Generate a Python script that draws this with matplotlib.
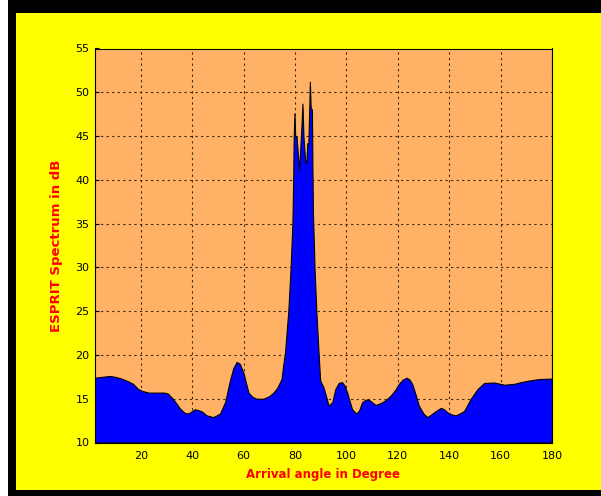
import matplotlib.pyplot as plt
from matplotlib.patches import Rectangle

# ESPRIT spectrum (angle in degree, level in dB)
angle = [2, 5, 8, 10, 12.5, 15, 17, 19, 20.5, 23, 26, 29, 30.5, 32.5, 34, 35.2,
         37, 38.4, 40, 41, 42.5, 44, 45.6, 48.2, 50.8, 52.8, 54.7, 56, 57.3,
         58.5, 59.9, 61.9, 63.5, 65.1, 67.7, 70, 71.6, 73, 74.2, 74.8, 75.5,
         76.1, 76.8, 77.4, 78.3, 79.0, 79.3, 79.5, 79.8, 80.1, 80.6, 81.6,
         82.5, 82.9, 83.3, 84.0, 84.4, 84.8, 85.2, 85.8, 86.1, 86.6,
         86.8, 87.0, 87.6, 88.3, 89.2, 89.8, 91.1, 93.1, 94.5, 95.7, 97.0,
         98.3, 99.3, 100.3, 102.2, 103.9, 105, 106.1, 107.5, 108.7, 110, 111.3,
         112.5, 113.9, 115.5, 117.2, 119, 120.4, 122, 123.4, 124.5, 125.6, 127,
         128.2, 130, 131.5, 133, 134.1, 136.7, 138, 139.3, 141, 142.5, 144,
         145.8, 148.4, 151, 153.6, 157.5, 161.4, 165.3, 168, 170.5, 175, 180]
spectrum = [17.4, 17.5, 17.6, 17.5, 17.3, 17.0, 16.7, 16.1, 15.9, 15.7, 15.7,
            15.7, 15.6, 15.0, 14.4, 13.9, 13.4, 13.3, 13.6, 13.8, 13.7, 13.5,
            13.1, 12.9, 13.3, 14.6, 17.1, 18.5, 19.2, 19.0, 18.0, 15.7, 15.2,
            15.0, 15.0, 15.3, 15.7, 16.2, 16.9, 17.3, 19.0, 20.2, 22.8, 25.0,
            30.0, 35.0, 40.0, 44.9, 47.6, 44.9, 45.0, 41.1, 46.0, 48.7,
            45.0, 42.0, 41.9, 44.2, 44.0, 51.2, 48.3, 48.0, 41.0, 36.2, 30.0,
            25.0, 20.1, 17.1, 16.3, 14.2, 14.6, 16.1, 16.8, 16.9, 16.5, 15.7,
            13.8, 13.3, 13.7, 14.6, 14.9, 14.9, 14.6, 14.3, 14.4, 14.6, 14.9,
            15.35, 16.0, 16.7, 17.2, 17.4, 17.2, 16.7, 15.4, 14.2, 13.3, 12.9,
            13.2, 13.45, 13.95, 13.8, 13.45, 13.2, 13.1, 13.3, 13.6, 15.0, 16.1,
            16.8, 16.85, 16.6, 16.7, 16.9, 17.05, 17.25, 17.3]
xticks = [20, 40, 60, 80, 100, 120, 140, 160, 180]
yticks = [10, 15, 20, 25, 30, 35, 40, 45, 50, 55]

fig = plt.figure(figsize=(6.01, 4.96), dpi=100)
fig.patch.set_facecolor('white')
# black frame and yellow panel
fig.patches.append(Rectangle((8 / 601, 0), 1, 1, transform=fig.transFigure,
                             facecolor='black', edgecolor='none', zorder=-2))
fig.patches.append(Rectangle((16 / 601, 6 / 496), 1, 1 - 19 / 496,
                             transform=fig.transFigure, facecolor='#ffff00',
                             edgecolor='none', zorder=-1))

ax = fig.add_axes([94.5 / 601, 1 - 442.5 / 496, (552 - 94.5) / 601, (442.5 - 48.5) / 496])
ax.set_facecolor('#ffb266')
ax.fill_between(angle, spectrum, 10, facecolor='#0000ff', edgecolor='black',
                linewidth=0.8, zorder=3)
ax.set_xlim(2, 180)
ax.set_ylim(10, 55)
ax.set_xticks(xticks)
ax.set_yticks(yticks)
ax.grid(True, color='#3a2a10', linestyle=(0, (2, 3)), linewidth=0.8, zorder=1)
ax.set_axisbelow(True)
ax.tick_params(direction='in', labelsize=8, length=3, colors='black')
ax.tick_params(axis='x', pad=6)
for s in ax.spines.values():
    s.set_color('black')
    s.set_linewidth(0.8)
    s.set_zorder(5)

ax.set_xlabel('Arrival angle in Degree', color='red', fontsize=8.5,
              fontweight='bold', labelpad=5)
ax.set_ylabel('ESPRIT Spectrum in dB', color='red', fontsize=9.5,
              fontweight='bold', labelpad=9)

fig.savefig('out.png', dpi=100, facecolor=fig.get_facecolor())
